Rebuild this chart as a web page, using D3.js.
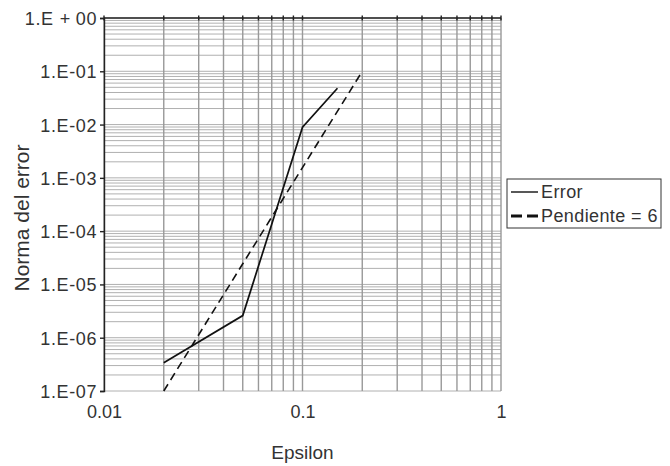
<!DOCTYPE html>
<html>
<head>
<meta charset="utf-8">
<title>Norma del error vs Epsilon</title>
<script src="https://d3js.org/d3.v7.min.js"></script>
<style>
  body { margin: 0; background: #fff; }
  text { font-family: "Liberation Sans", Arial, sans-serif; fill: #333; }
</style>
</head>
<body>
<div id="chart"></div>
<script>
// data
var errEps = [0.02, 0.05, 0.1, 0.15]
var errVal = [3.4e-7, 2.6e-6, 8.9e-3, 4.8e-2]
var slopeEps = [0.02, 0.2]
var slopeVal = [1e-7, 1e-1]
var xTicks = [0.01, 0.1, 1]
var xTickLabels = ["0.01", "0.1", "1"]
var yTicks = [1e0, 1e-1, 1e-2, 1e-3, 1e-4, 1e-5, 1e-6, 1e-7]
var yTickLabels = ["1.E+00", "1.E-01", "1.E-02", "1.E-03", "1.E-04", "1.E-05", "1.E-06", "1.E-07"]
var legendLabels = ["Error", "Pendiente = 6"]

var width = 670, height = 466
var margin = {top: 18, right: 169, bottom: 75, left: 104}

var svg = d3.select("#chart").append("svg")
    .attr("width", width)
    .attr("height", height)

var x = d3.scaleLog().domain([0.01, 1]).range([margin.left, width - margin.right])
var y = d3.scaleLog().domain([1e-7, 1]).range([height - margin.bottom, margin.top])

// minor + major grid positions
var xGrid = [], yGrid = []
for (var p = -2; p < 0; p++)
    for (var m = 1; m < 10; m++) xGrid.push(m * Math.pow(10, p))
xGrid.push(1)
for (var p = -7; p < 0; p++)
    for (var m = 1; m < 10; m++) yGrid.push(m * Math.pow(10, p))
yGrid.push(1)

var grid = svg.append("g")
grid.selectAll(".hg").data(yGrid).enter().append("line")
    .attr("x1", x(0.01)).attr("x2", x(1))
    .attr("y1", d => y(d)).attr("y2", d => y(d))
    .style("stroke", "#b0b0b0").style("stroke-width", 1)
grid.selectAll(".vg").data(xGrid).enter().append("line")
    .attr("x1", d => x(d)).attr("x2", d => x(d))
    .attr("y1", y(1)).attr("y2", y(1e-7))
    .style("stroke", "#999").style("stroke-width", 1.4)

// the horizontal axis crosses at 1.E+00 (top), its labels sit low
svg.append("line")
    .attr("x1", x(0.01)).attr("x2", x(1))
    .attr("y1", y(1)).attr("y2", y(1))
    .style("stroke", "#222").style("stroke-width", 1.4)
svg.selectAll(".xt").data(xGrid).enter().append("line")
    .attr("x1", d => x(d)).attr("x2", d => x(d))
    .attr("y1", y(1) - 2.5).attr("y2", y(1) + 2.5)
    .style("stroke", "#222").style("stroke-width", 1.4)

svg.append("g")
    .attr("transform", "translate(" + x(0.01) + ",0)")
    .call(d3.axisLeft(y).tickValues(yTicks).tickSize(4)
        .tickFormat((d, i) => yTickLabels[i]))
    .call(g => g.select(".domain").style("stroke", "#222").style("stroke-width", 1.4))
    .call(g => g.selectAll(".tick line").style("stroke", "#222").style("stroke-width", 1.4))
    .call(g => g.selectAll(".tick text")
        .attr("x", -7).attr("dy", "0.36em")
        .style("font-size", "18px").style("fill", "#333")
        .style("letter-spacing", "0.6px")
        .style("font-family", "'Liberation Sans', Arial, sans-serif"))

// widen the plus sign like the original
svg.selectAll(".tick text").filter(function() { return this.textContent.indexOf("+") >= 0 })
    .each(function() {
        var t = d3.select(this), s = t.text().split("+")
        t.text(null)
        t.append("tspan").text(s[0])
        t.append("tspan").attr("dx", 6).text("+")
        t.append("tspan").attr("dx", 5).text(s[1])
    })

svg.append("g")
    .attr("transform", "translate(0," + y(1e-7) + ")")
    .call(d3.axisBottom(x).tickValues(xTicks).tickSize(0)
        .tickFormat((d, i) => xTickLabels[i]))
    .call(g => g.select(".domain").remove())
    .call(g => g.selectAll(".tick text")
        .attr("y", 14).attr("dy", "0.71em")
        .style("font-size", "18px").style("fill", "#333")
        .style("font-family", "'Liberation Sans', Arial, sans-serif"))

// axis titles
svg.append("text")
    .attr("x", (x(0.01) + x(1)) / 2).attr("y", 459)
    .attr("text-anchor", "middle")
    .style("font-size", "19px")
    .text("Epsilon")
svg.append("text")
    .attr("transform", "translate(29,218) rotate(-90)")
    .attr("text-anchor", "middle")
    .style("font-size", "21px")
    .text("Norma del error")

// series
var line = d3.line().x(d => x(d[0])).y(d => y(d[1]))
svg.append("path")
    .datum(errEps.map((e, i) => [e, errVal[i]]))
    .attr("d", line)
    .style("fill", "none").style("stroke", "#111").style("stroke-width", 1.7)
svg.append("path")
    .datum(slopeEps.map((e, i) => [e, slopeVal[i]]))
    .attr("d", line)
    .style("fill", "none").style("stroke", "#111").style("stroke-width", 1.6)
    .style("stroke-dasharray", "8,5")

// legend
var lg = svg.append("g").attr("transform", "translate(507,179)")
lg.append("rect")
    .attr("width", 154).attr("height", 49)
    .style("fill", "#fff").style("stroke", "#333").style("stroke-width", 1)
var dashes = [null, "11,5"]
var widths = [1.4, 2.8]
lg.selectAll(".li").data(legendLabels).enter().append("line")
    .attr("x1", 4).attr("x2", 31)
    .attr("y1", (d, i) => 13 + i * 24).attr("y2", (d, i) => 13 + i * 24)
    .style("stroke", "#111")
    .style("stroke-width", (d, i) => widths[i])
    .style("stroke-dasharray", (d, i) => dashes[i])
lg.selectAll(".lt").data(legendLabels).enter().append("text")
    .attr("x", 34).attr("y", (d, i) => 13 + i * 24).attr("dy", "0.36em")
    .style("font-size", "18px")
    .style("letter-spacing", "0.4px")
    .text(d => d)
</script>
</body>
</html>
